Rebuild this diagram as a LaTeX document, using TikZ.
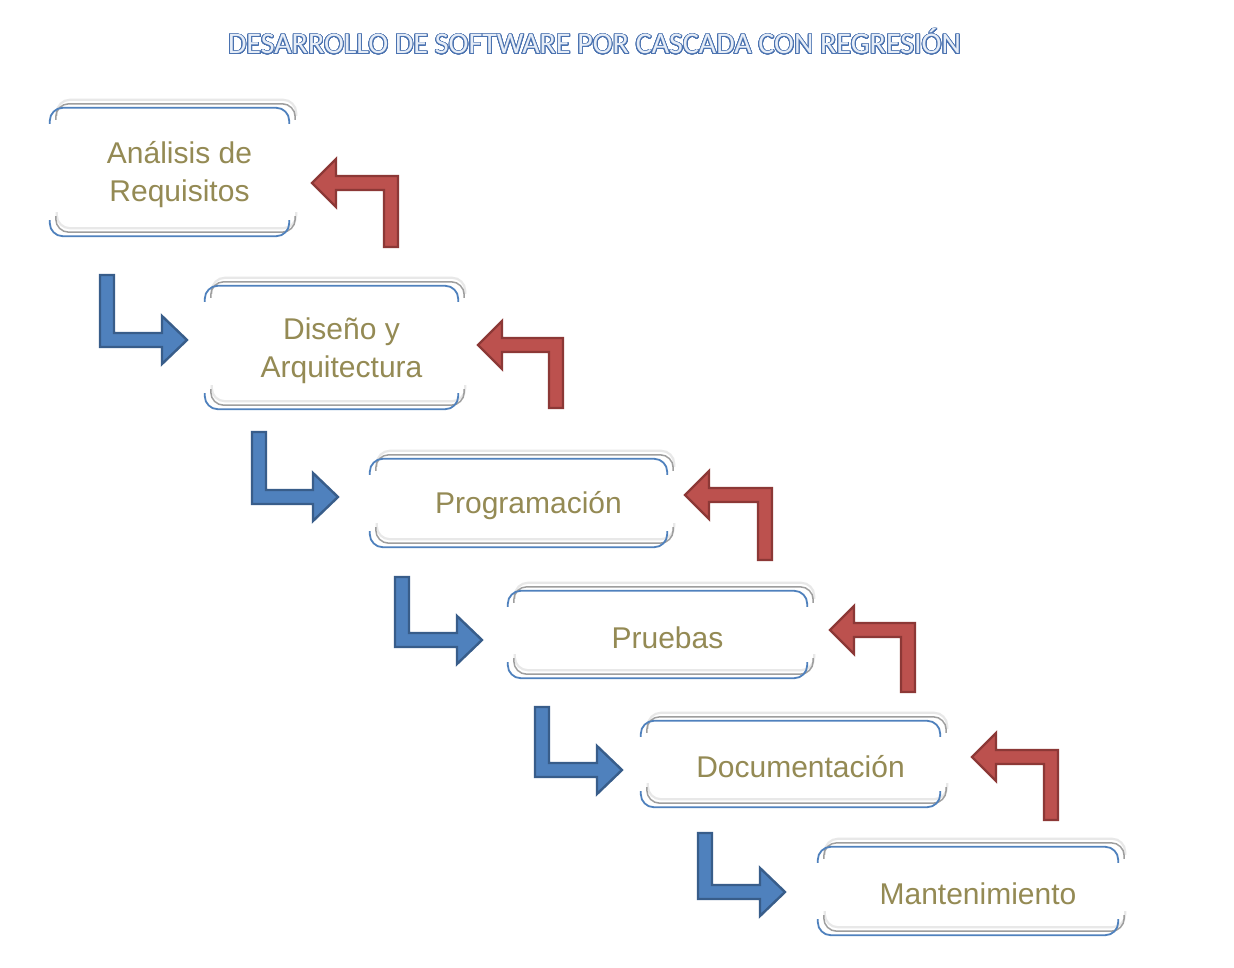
\documentclass[tikz,border=0pt]{standalone}
\usepackage{fontspec}
\setmainfont{Liberation Sans}
\newfontfamily\titlefont{Carlito}
\usepackage[copies]{contour}
\usetikzlibrary{calc}
\definecolor{boxblue}{HTML}{4F81BD}
\definecolor{arrblue}{HTML}{4F81BD}
\definecolor{arrblueedge}{HTML}{385D8A}
\definecolor{arrred}{HTML}{BC514E}
\definecolor{arrrededge}{HTML}{8C3836}
\definecolor{txtgold}{HTML}{948A54}
\definecolor{titleblue}{HTML}{4A72B0}
\definecolor{titlefill}{HTML}{E6EDF7}
\contourlength{0.9pt}
\contournumber{32}
% bracket pair (top and bottom of a stage box)
\newcommand\brkpair[3]{%
  \draw[#2] ([shift={#3},yshift=-16pt]#1nw) -- ([shift={#3}]#1nw) -- ([shift={#3}]#1ne) -- ([shift={#3},yshift=-16pt]#1ne);
  \draw[#2] ([shift={#3},yshift=16pt]#1sw) -- ([shift={#3}]#1sw) -- ([shift={#3}]#1se) -- ([shift={#3},yshift=16pt]#1se);
}
\newcommand\stageframe[1]{%
  \coordinate (#1nw) at ($(#1.north west)+(-10,-3)$);
  \coordinate (#1se) at ($(#1.south east)+(-10,-3)$);
  \coordinate (#1ne) at (#1se |- #1nw);
  \coordinate (#1sw) at (#1nw |- #1se);
  \brkpair{#1}{glowbrk}{(7pt,8pt)}
  \brkpair{#1}{shadebrk}{(6pt,4pt)}
  \brkpair{#1}{bluebrk}{(0pt,0pt)}
}
% forward (blue) bent arrow: left x, top y, centre y of horizontal shaft, tip x
\newcommand\fwdarr[4]{%
  \draw[fwdarrow] (#1,#2) -- ({#1+14},#2) -- ({#1+14},{#3-7}) -- ({#4-25},{#3-7}) -- ({#4-25},{#3-24})
    -- (#4,#3) -- ({#4-25},{#3+24}) -- ({#4-25},{#3+7}) -- (#1,{#3+7}) -- cycle;
}
% regression (red) bent arrow: right x, bottom y, centre y of horizontal shaft, tip x
\newcommand\regarr[4]{%
  \draw[regarrow] (#1,#2) -- (#1,{#3-7}) -- ({#4+24},{#3-7}) -- ({#4+24},{#3-24}) -- (#4,#3)
    -- ({#4+24},{#3+24}) -- ({#4+24},{#3+7}) -- ({#1-14},{#3+7}) -- ({#1-14},#2) -- cycle;
}
\begin{document}
\begin{tikzpicture}[x=1pt,y=-1pt,
  stagebox/.style={inner sep=0pt, align=center, text=txtgold, font=\fontsize{30}{38}\selectfont},
  bluebrk/.style={draw=boxblue, line width=1.8pt, rounded corners=13pt},
  shadebrk/.style={draw=black!38, line width=1.5pt, rounded corners=13pt},
  glowbrk/.style={draw=black!9, line width=2.2pt, rounded corners=13pt},
  fwdarrow/.style={fill=arrblue, draw=arrblueedge, line width=2.4pt, line join=miter},
  regarrow/.style={fill=arrred, draw=arrrededge, line width=2.4pt, line join=miter},
  titlestyle/.style={inner sep=0pt, text=titlefill, font=\titlefont\fontsize{30}{30}\selectfont}
]
\fill[white] (0,0) rectangle (1234,968);
\useasboundingbox (0,0) rectangle (1234,968);

\node[titlestyle] (title) at (594.5,42) {\contour{titleblue}{DESARROLLO DE SOFTWARE POR CASCADA CON REGRESIÓN}};

\node[stagebox, minimum width=239pt, minimum height=128pt] (b1) at (179.5,175) {Análisis de\\Requisitos};
\node[stagebox, minimum width=253pt, minimum height=123pt] (b2) at (341.5,350.5) {Diseño y\\Arquitectura};
\node[stagebox, minimum width=297pt, minimum height=88pt] (b3) at (528.5,506) {Programación};
\node[stagebox, minimum width=299pt, minimum height=87pt] (b4) at (667.5,637.5) {Pruebas};
\node[stagebox, minimum width=299pt, minimum height=86pt] (b5) at (800.5,767) {Documentación};
\node[stagebox, minimum width=300pt, minimum height=88pt] (b6) at (978,894) {Mantenimiento};

\stageframe{b1}
\stageframe{b2}
\stageframe{b3}
\stageframe{b4}
\stageframe{b5}
\stageframe{b6}

\fwdarr{100}{275}{340}{187}
\fwdarr{252}{432}{497}{338}
\fwdarr{395}{577}{640}{482}
\fwdarr{535}{707}{770}{622}
\fwdarr{698}{833}{892}{785}

\regarr{398}{247}{183}{312}
\regarr{563}{408}{345}{478}
\regarr{772}{560}{495}{685}
\regarr{915}{692}{630}{830}
\regarr{1058}{820}{757}{972}
\end{tikzpicture}
\end{document}
